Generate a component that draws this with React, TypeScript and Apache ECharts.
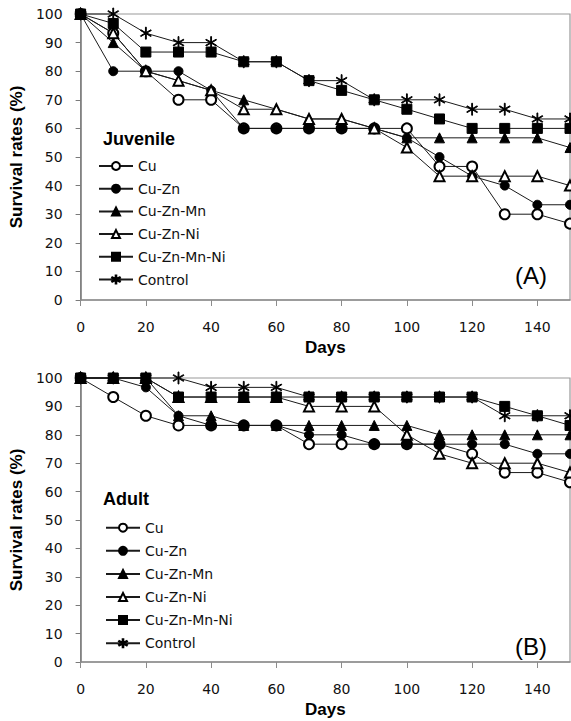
import React, { useEffect, useRef } from "react";
import * as echarts from "echarts";

const days = [0, 10, 20, 30, 40, 50, 60, 70, 80, 90, 100, 110, 120, 130, 140, 150];
const xTickValues = [0, 20, 40, 60, 80, 100, 120, 140];
const seriesNames = ["Cu", "Cu-Zn", "Cu-Zn-Mn", "Cu-Zn-Ni", "Cu-Zn-Mn-Ni", "Control"];
// drawing order (later drawn on top)
const drawOrder = ["Cu", "Cu-Zn", "Cu-Zn-Mn", "Cu-Zn-Ni", "Control", "Cu-Zn-Mn-Ni"];

// Juvenile (A)
const juvCu = [100, 93.3, 80, 70, 70, 60, 60, 60, 60, 60, 60, 46.7, 46.7, 30, 30, 26.7];
const juvCuZn = [100, 80, 80, 80, 73.3, 60, 60, 60, 60, 60, 56.7, 50, 43.3, 40, 33.3, 33.3];
const juvCuZnMn = [100, 90, 80, 76.7, 73.3, 70, 66.7, 63.3, 63.3, 60, 56.7, 56.7, 56.7, 56.7, 56.7, 53.3];
const juvCuZnNi = [100, 93.3, 80, 76.7, 73.3, 66.7, 66.7, 63.3, 63.3, 60, 53.3, 43.3, 43.3, 43.3, 43.3, 40];
const juvCuZnMnNi = [100, 96.7, 86.7, 86.7, 86.7, 83.3, 83.3, 76.7, 73.3, 70, 66.7, 63.3, 60, 60, 60, 60];
const juvControl = [100, 100, 93.3, 90, 90, 83.3, 83.3, 76.7, 76.7, 70, 70, 70, 66.7, 66.7, 63.3, 63.3];

// Adult (B)
const adCu = [100, 93.3, 86.7, 83.3, 83.3, 83.3, 83.3, 76.7, 76.7, 76.7, 76.7, 76.7, 73.3, 66.7, 66.7, 63.3];
const adCuZn = [100, 100, 96.7, 86.7, 83.3, 83.3, 83.3, 80, 80, 76.7, 76.7, 76.7, 76.7, 76.7, 73.3, 73.3];
const adCuZnMn = [100, 100, 100, 86.7, 86.7, 83.3, 83.3, 83.3, 83.3, 83.3, 83.3, 80, 80, 80, 80, 80];
const adCuZnNi = [100, 100, 100, 93.3, 93.3, 93.3, 93.3, 90, 90, 90, 80, 73.3, 70, 70, 70, 66.7];
const adCuZnMnNi = [100, 100, 100, 93.3, 93.3, 93.3, 93.3, 93.3, 93.3, 93.3, 93.3, 93.3, 93.3, 90, 86.7, 83.3];
const adControl = [100, 100, 100, 100, 96.7, 96.7, 96.7, 93.3, 93.3, 93.3, 93.3, 93.3, 93.3, 86.7, 86.7, 86.7];

const juvenile: Record<string, number[]> = {
  Cu: juvCu,
  "Cu-Zn": juvCuZn,
  "Cu-Zn-Mn": juvCuZnMn,
  "Cu-Zn-Ni": juvCuZnNi,
  "Cu-Zn-Mn-Ni": juvCuZnMnNi,
  Control: juvControl,
};
const adult: Record<string, number[]> = {
  Cu: adCu,
  "Cu-Zn": adCuZn,
  "Cu-Zn-Mn": adCuZnMn,
  "Cu-Zn-Ni": adCuZnNi,
  "Cu-Zn-Mn-Ni": adCuZnMnNi,
  Control: adControl,
};

const asterisk =
  "path://M-0.07,-1L0.07,-1L0.07,1L-0.07,1Z" +
  "M0.831,-0.561L0.901,-0.439L-0.831,0.561L-0.901,0.439Z" +
  "M0.901,0.439L0.831,0.561L-0.901,-0.439L-0.831,-0.561Z";

const symbolFor: Record<string, { symbol: string; size: number }> = {
  Cu: { symbol: "emptyCircle", size: 10 },
  "Cu-Zn": { symbol: "circle", size: 9 },
  "Cu-Zn-Mn": { symbol: "triangle", size: 10 },
  "Cu-Zn-Ni": { symbol: "emptyTriangle", size: 10 },
  "Cu-Zn-Mn-Ni": { symbol: "rect", size: 10 },
  Control: { symbol: asterisk, size: 12 },
};

const FONT = "DejaVu Sans";
const BOLD = "Liberation Sans";

function makeAxes(gridIndex: number) {
  const x = {
    type: "value",
    gridIndex,
    min: 0,
    max: 150,
    interval: 20,
    name: "Days",
    nameLocation: "middle",
    nameGap: 39,
    nameTextStyle: { fontFamily: BOLD, fontWeight: "bold", fontSize: 17, color: "#000" },
    axisLine: { lineStyle: { color: "#8c8c8c", width: 1.5 } },
    axisTick: { show: true, length: 6, lineStyle: { color: "#8c8c8c" }, customValues: xTickValues },
    axisLabel: { fontFamily: FONT, fontSize: 14, color: "#111", margin: 20, customValues: xTickValues },
    splitLine: { show: false },
  };
  const y = {
    type: "value",
    gridIndex,
    min: 0,
    max: 100,
    interval: 10,
    name: "Survival rates (%)",
    nameLocation: "middle",
    nameGap: 46,
    nameTextStyle: { fontFamily: BOLD, fontWeight: "bold", fontSize: 17, color: "#000" },
    axisLine: { show: true, lineStyle: { color: "#7a7a7a", width: 1.5 } },
    axisTick: { show: true, length: 5, lineStyle: { color: "#7a7a7a" } },
    axisLabel: { fontFamily: FONT, fontSize: 14, color: "#111", margin: 18 },
    splitLine: { show: false },
  };
  return { x, y };
}

function makeSeries(data: Record<string, number[]>, idx: number) {
  return drawOrder.map((name) => ({
    name,
    type: "line",
    xAxisIndex: idx,
    yAxisIndex: idx,
    data: days.map((d, i) => [d, data[name][i]]),
    symbol: symbolFor[name].symbol,
    symbolSize: symbolFor[name].size,
    symbolKeepAspect: true,
    showAllSymbol: true,
    clip: false,
    lineStyle: { color: "#1a1a1a", width: 1 },
    itemStyle: { color: "#000", borderColor: "#000", borderWidth: 1 },
    emphasis: { disabled: true },
  }));
}

export default function App() {
  const ref = useRef<HTMLDivElement>(null);
  useEffect(() => {
    document.body.style.margin = "0";
    if (!ref.current) return;
    const chart = echarts.init(ref.current, undefined, { renderer: "svg" });
    const a = makeAxes(0);
    const b = makeAxes(1);
    const legendBase = {
      data: seriesNames,
      orient: "vertical",
      padding: 0,
      itemWidth: 34,
      itemHeight: 10,
      textStyle: { fontFamily: FONT, fontSize: 14, color: "#111", lineHeight: 14 },
      selectedMode: false,
    };
    chart.setOption({
      animation: false,
      backgroundColor: "#fff",
      grid: [
        { left: 77, top: 14, width: 493, height: 286, show: true, borderColor: "#999", borderWidth: 1.2 },
        { left: 77, top: 378, width: 493, height: 284, show: true, borderColor: "#999", borderWidth: 1.2 },
      ],
      xAxis: [a.x, b.x],
      yAxis: [a.y, b.y],
      legend: [
        { ...legendBase, left: 98, top: 159, itemGap: 8.7 },
        { ...legendBase, left: 105, top: 520.7, itemGap: 9.1 },
      ],
      graphic: [
        { type: "text", x: 103, y: 139, style: { text: "Juvenile", font: `bold 18px "${BOLD}"`, fill: "#000", verticalAlign: "middle" } },
        { type: "text", x: 103, y: 499, style: { text: "Adult", font: `bold 18px "${BOLD}"`, fill: "#000", verticalAlign: "middle" } },
        { type: "text", x: 515, y: 275, style: { text: "(A)", font: `24px "${BOLD}"`, fill: "#000", verticalAlign: "middle" } },
        { type: "text", x: 515, y: 646, style: { text: "(B)", font: `24px "${BOLD}"`, fill: "#000", verticalAlign: "middle" } },
      ],
      series: [...makeSeries(juvenile, 0), ...makeSeries(adult, 1)],
    });
    return () => chart.dispose();
  }, []);
  return <div ref={ref} style={{ width: 571, height: 721 }} />;
}
